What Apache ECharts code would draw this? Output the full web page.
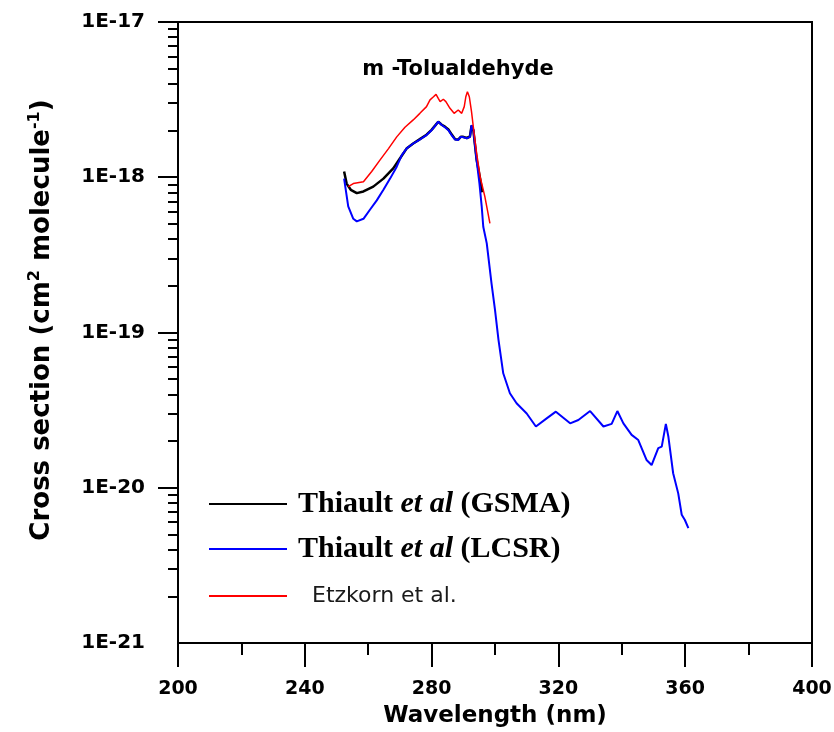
<!DOCTYPE html>
<html>
<head>
<meta charset="utf-8">
<script src="https://cdn.jsdelivr.net/npm/echarts@6/dist/echarts.min.js"></script>
<style>
html,body{margin:0;padding:0;background:#fff;}
#chart{width:834px;height:732px;}
</style>
</head>
<body>
<div id="chart"></div>
<script>
// Thiault et al (GSMA) — [wavelength nm, cross section]
const gsmaData = [
  [252.4,1.09e-18],[253.2,9.1e-19],[254.5,8.3e-19],[256.4,7.9e-19],[258.5,8.1e-19],
  [261.6,8.7e-19],[264.8,9.8e-19],[267.9,1.14e-18],[270.0,1.32e-18],[272.1,1.53e-18],
  [274.2,1.65e-18],[276.3,1.76e-18],[278.4,1.88e-18],[280.0,2.02e-18],[281.1,2.15e-18],
  [282.1,2.28e-18],[283.2,2.18e-18],[284.2,2.12e-18],[285.3,2.03e-18],[286.3,1.89e-18],
  [287.4,1.76e-18],[288.4,1.75e-18],[289.2,1.82e-18],[290.0,1.82e-18],[291.1,1.79e-18],
  [292.1,1.83e-18],[292.6,2.15e-18],[293.2,2.0e-18],[293.5,1.75e-18],[294.2,1.3e-18],
  [295.3,9.8e-19],[296.0,8.0e-19]
];
// Thiault et al (LCSR)
const lcsrData = [
  [252.4,9.8e-19],[253.7,6.5e-19],[255.3,5.4e-19],[256.4,5.2e-19],[258.5,5.4e-19],
  [260.6,6.2e-19],[262.7,7.1e-19],[264.8,8.3e-19],[266.9,9.8e-19],[269.0,1.17e-18],
  [270.6,1.39e-18],[272.1,1.53e-18],[274.2,1.65e-18],[276.3,1.75e-18],[278.4,1.87e-18],
  [280.0,2.01e-18],[281.1,2.14e-18],[282.1,2.28e-18],[283.2,2.17e-18],[284.2,2.10e-18],
  [285.3,2.01e-18],[286.3,1.87e-18],[287.4,1.75e-18],[288.4,1.74e-18],[289.2,1.82e-18],
  [290.0,1.81e-18],[291.1,1.78e-18],[292.1,1.82e-18],[292.6,2.17e-18],[293.2,2.01e-18],
  [293.5,1.74e-18],[294.2,1.29e-18],[295.1,9.1e-19],[295.8,6.5e-19],[296.3,4.8e-19],
  [297.4,3.75e-19],[298.9,2.07e-19],[300.0,1.40e-19],[301.1,8.95e-20],[302.6,5.46e-20],
  [304.7,4.06e-20],[306.8,3.50e-20],[310.0,3.01e-20],[312.9,2.48e-20],[316.3,2.80e-20],
  [319.2,3.09e-20],[323.7,2.60e-20],[326.3,2.73e-20],[330.0,3.12e-20],[334.2,2.48e-20],
  [336.8,2.58e-20],[338.6,3.12e-20],[340.5,2.60e-20],[343.1,2.19e-20],[345.2,2.03e-20],
  [347.8,1.51e-20],[349.4,1.40e-20],[351.5,1.80e-20],[352.6,1.84e-20],[353.9,2.58e-20],
  [354.7,2.13e-20],[356.2,1.24e-20],[357.8,9.2e-21],[358.9,6.7e-21],[359.9,6.2e-21],
  [361.0,5.5e-21]
];
// Etzkorn et al.
const etzkornData = [
  [253.7,8.7e-19],[255.3,9.1e-19],[258.5,9.35e-19],[261.1,1.09e-18],[263.7,1.29e-18],
  [266.4,1.53e-18],[269.0,1.82e-18],[271.6,2.10e-18],[274.2,2.34e-18],[276.3,2.58e-18],
  [278.4,2.85e-18],[279.5,3.15e-18],[280.6,3.30e-18],[281.4,3.42e-18],[282.1,3.22e-18],
  [282.7,3.07e-18],[283.7,3.18e-18],[284.5,3.07e-18],[285.8,2.78e-18],[287.1,2.58e-18],
  [288.4,2.71e-18],[289.5,2.58e-18],[290.3,2.85e-18],[290.8,3.30e-18],[291.3,3.56e-18],
  [291.9,3.30e-18],[292.6,2.64e-18],[293.4,1.92e-18],[294.2,1.43e-18],[295.3,1.01e-18],
  [296.8,7.5e-19],[298.4,5.05e-19]
];
const xTicks = [200, 240, 280, 320, 360, 400];
const yDecades = [1e-21, 1e-20, 1e-19, 1e-18, 1e-17];
const minorMantissas = [2, 3, 4, 5, 6, 7, 8, 9];

// tick positions in log10 space (for a linear helper axis)
const yMajorLog = yDecades.map(function (v) { return Math.round(Math.log10(v)); });
const yMinorLog = [];
for (let d = 0; d < yDecades.length - 1; d++) {
  for (const m of minorMantissas) yMinorLog.push(Math.log10(m * yDecades[d]));
}

const chart = echarts.init(document.getElementById('chart'));
const sans = 'DejaVu Sans';
const serif = 'Liberation Serif';

const legendBase = {
  orient: 'vertical',
  left: 209,
  padding: 0,
  icon: 'rect',
  itemWidth: 78,
  itemHeight: 2,
  itemGap: 10,
  selectedMode: false,
  textStyle: {
    rich: {
      b0: { fontFamily: serif, fontWeight: 'bold', fontSize: 30, color: '#000', lineHeight: 30, padding: [0, 0, 0, 6] },
      b: { fontFamily: serif, fontWeight: 'bold', fontSize: 30, color: '#000', lineHeight: 30 },
      i: { fontFamily: serif, fontWeight: 'bold', fontStyle: 'italic', fontSize: 30, color: '#000', lineHeight: 30 },
      s: { fontFamily: sans, fontSize: 22, color: '#1a1a1a', lineHeight: 30, padding: [0, 0, 0, 20] }
    }
  },
  formatter: function (name) {
    if (name === 'GSMA') return '{b0|Thiault }{i|et al}{b| (GSMA)}';
    if (name === 'LCSR') return '{b0|Thiault }{i|et al}{b| (LCSR)}';
    return '{s|Etzkorn et al.}';
  }
};

const option = {
  backgroundColor: '#fff',
  animation: false,
  grid: {
    left: 178, right: 22, top: 22, bottom: 89,
    containLabel: false, outerBoundsMode: 'none',
    show: true, borderColor: '#000', borderWidth: 2, backgroundColor: 'transparent'
  },
  legend: [
    Object.assign({}, legendBase, { top: 489, data: ['GSMA'] }),
    Object.assign({}, legendBase, { top: 534, data: ['LCSR'] }),
    Object.assign({}, legendBase, { top: 585, data: ['Etzkorn'] })
  ],
  graphic: [{
    type: 'text',
    x: 458, y: 70,
    style: {
      text: 'm -Tolualdehyde',
      font: 'bold 21px "DejaVu Sans"',
      fill: '#000',
      align: 'center',
      verticalAlign: 'middle'
    }
  }, {
    type: 'text',
    x: 42, y: 320,
    rotation: Math.PI / 2,
    style: {
      text: '{a|Cross section (cm}{s|2}{a| molecule}{s|-1}{a|)}',
      align: 'center',
      verticalAlign: 'middle',
      rich: {
        a: { fontFamily: sans, fontWeight: 'bold', fontSize: 26, fill: '#000', lineHeight: 30 },
        s: { fontFamily: sans, fontWeight: 'bold', fontSize: 16, fill: '#000', lineHeight: 16, verticalAlign: 'top' }
      }
    }
  }],
  xAxis: {
    type: 'value',
    min: xTicks[0],
    max: xTicks[xTicks.length - 1],
    interval: 40,
    name: 'Wavelength (nm)',
    nameLocation: 'middle',
    nameGap: 62,
    nameTextStyle: { fontFamily: sans, fontWeight: 'bold', fontSize: 23, color: '#000' },
    axisLine: { show: true, lineStyle: { color: '#000', width: 2 } },
    axisTick: { show: true, length: 24, lineStyle: { color: '#000', width: 2 } },
    minorTick: { show: true, splitNumber: 2, length: 12, lineStyle: { color: '#000', width: 2 } },
    axisLabel: { margin: 37, fontFamily: sans, fontWeight: 'bold', fontSize: 19, color: '#000' },
    splitLine: { show: false }
  },
  yAxis: [{
    type: 'log',
    logBase: 10,
    min: yDecades[0],
    max: yDecades[yDecades.length - 1],
    splitNumber: 4,
    axisLine: { show: true, lineStyle: { color: '#000', width: 2 } },
    axisTick: { show: true, length: 20, lineStyle: { color: '#000', width: 2 } },
    axisLabel: { show: false },
    splitLine: { show: false }
  }, {
    type: 'value',
    min: yMajorLog[0],
    max: yMajorLog[yMajorLog.length - 1],
    interval: 1,
    position: 'left',
    axisLine: { show: false },
    axisLabel: {
      show: true, showMinLabel: true, showMaxLabel: true,
      customValues: yMajorLog,
      margin: 33, fontFamily: sans, fontWeight: 'bold', fontSize: 20, color: '#000',
      formatter: function (v) { return '1E' + Math.round(v); }
    },
    axisTick: { show: true, length: 10, customValues: yMinorLog, lineStyle: { color: '#000', width: 2 } },
    splitLine: { show: false }
  }],
  series: [
    { name: 'GSMA', type: 'line', data: gsmaData, showSymbol: false, symbol: 'none', color: '#000', lineStyle: { width: 2.5, color: '#000' }, z: 2 },
    { name: 'LCSR', type: 'line', data: lcsrData, showSymbol: false, symbol: 'none', color: '#0000ff', lineStyle: { width: 2, color: '#0000ff' }, z: 3 },
    { name: 'Etzkorn', type: 'line', data: etzkornData, showSymbol: false, symbol: 'none', color: '#ff0000', lineStyle: { width: 1.5, color: '#ff0000' }, z: 4 }
  ]
};
chart.setOption(option);
</script>
</body>
</html>
